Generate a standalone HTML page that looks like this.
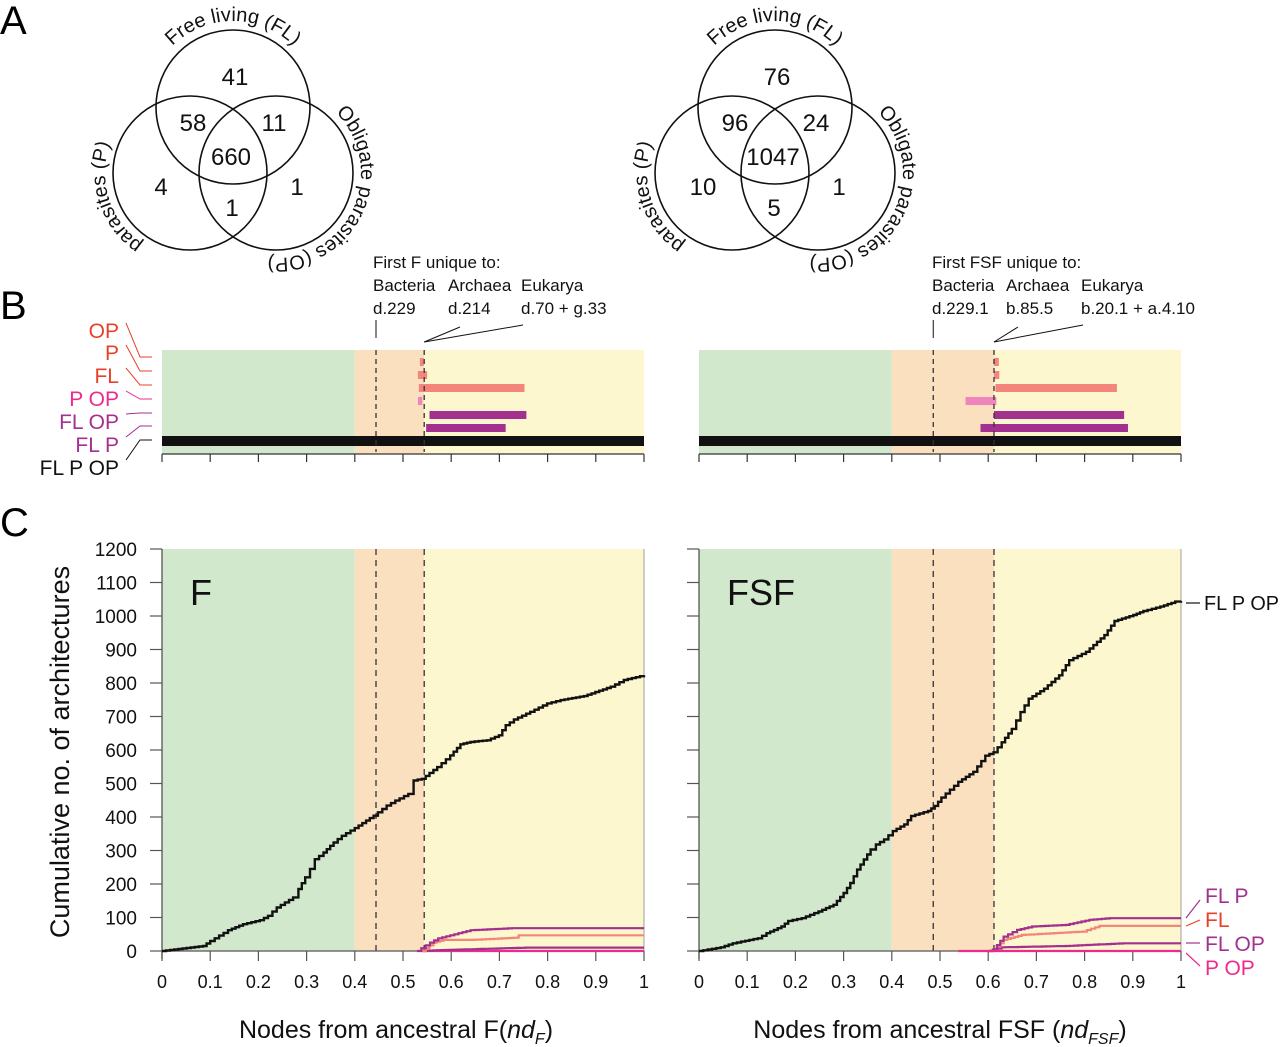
<!DOCTYPE html>
<html><head><meta charset="utf-8"><style>
html,body{margin:0;padding:0;background:#fff;}
svg{display:block;font-family:"Liberation Sans",sans-serif;}
</style></head><body>
<svg id="fig" width="1280" height="1047" viewBox="0 0 1280 1047" xmlns="http://www.w3.org/2000/svg">
<text x="0" y="34" font-size="40">A</text>
<text x="0" y="319" font-size="40">B</text>
<text x="0" y="536" font-size="40">C</text>
<g id="venns"></g>
<g id="panelB"></g>
<g id="panelC"></g>
</svg>
<script>
// ---------- DATA ----------
const vennLeft = ["41","58","11","660","4","1","1"];
const vennRight = ["76","96","24","1047","10","5","1"];
const rowNames = ["OP","P","FL","P OP","FL OP","FL P","FL P OP"];
const barsFStart = [0.535,0.531,0.533,0.531,0.555,0.548,0];
const barsFEnd   = [0.543,0.550,0.752,0.540,0.756,0.713,1];
const barsFSFStart = [0.612,0.612,0.615,0.553,0.612,0.584,0];
const barsFSFEnd   = [0.622,0.623,0.867,0.617,0.882,0.890,1];
const xTicks = [0,0.1,0.2,0.3,0.4,0.5,0.6,0.7,0.8,0.9,1];
const xTickLabels = ["0","0.1","0.2","0.3","0.4","0.5","0.6","0.7","0.8","0.9","1"];
const yTicks = [0,100,200,300,400,500,600,700,800,900,1000,1100,1200];
const fAllX = [0,0.085,0.10,0.137,0.168,0.203,0.22,0.238,0.272,0.283,0.297,0.307,0.317,0.335,0.356,0.373,0.40,0.439,0.466,0.484,0.511,0.522,0.539,0.571,0.598,0.619,0.64,0.674,0.699,0.713,0.73,0.764,0.799,0.827,0.875,0.931,0.958,1];
const fAllY = [0,15,30,62,80,92,105,130,160,185,220,245,274,294,324,344,367,404,434,449,469,509,514,549,584,617,624,629,644,674,691,714,739,749,761,789,809,823];
const fFLPX = [0.529,0.556,0.573,0.64,0.726,1];
const fFLPY = [0,25,38,62,68,68];
const fFLX = [0.539,0.563,0.584,0.64,0.737,0.74,1];
const fFLY = [0,25,33,33,40,47,47];
const fFLOPX = [0.539,0.563,0.754,1];
const fFLOPY = [0,2,10,10];
const fPOPX = [0.54,1];
const fPOPY = [0,0];
const sAllX = [0,0.045,0.07,0.122,0.14,0.171,0.185,0.213,0.248,0.279,0.3,0.314,0.328,0.342,0.356,0.367,0.384,0.402,0.426,0.44,0.475,0.489,0.503,0.538,0.569,0.594,0.611,0.628,0.649,0.667,0.684,0.716,0.747,0.768,0.803,0.841,0.862,0.901,0.922,0.957,0.988,1];
const sAllY = [0,11,23,38,53,73,90,98,118,138,173,203,243,273,303,318,333,358,378,403,418,433,458,505,535,583,593,623,663,713,753,783,823,868,893,943,985,1003,1015,1028,1043,1045];
const sFLPX = [0.6,0.611,0.632,0.66,0.691,0.761,0.81,0.852,1];
const sFLPY = [0,5,43,63,73,78,93,98,98];
const sFLX = [0.611,0.632,0.67,0.796,0.831,1];
const sFLY = [3,33,48,58,75,75];
const sFLOPX = [0.6,0.628,0.761,0.88,1];
const sFLOPY = [0,11,15,23,23];
const sPOPX = [0.538,1];
const sPOPY = [0,0];

const NS="http://www.w3.org/2000/svg";
function mk(tag,attrs,parent,txt){const e=document.createElementNS(NS,tag);for(const k in attrs)e.setAttribute(k,attrs[k]);if(txt!==undefined)e.textContent=txt;parent.appendChild(e);return e;}
const RED="#e8402a",SAL="#f4857a",PUR="#a3308f",PINK="#ec2c8c",PINKB="#ee86bd";
const GREEN="#d2e8cc",ORANGE="#fbe0c0",YELLOW="#fcf7cf";

// ---------- VENNS ----------
const vg=document.getElementById('venns');
function arcPath(cx,cy,r,c){const a0=(c-170)*Math.PI/180,a1=(c+170)*Math.PI/180;
 return `M${cx+r*Math.cos(a0)},${cy+r*Math.sin(a0)} A${r},${r} 0 1 1 ${cx+r*Math.cos(a1)},${cy+r*Math.sin(a1)}`;}
function venn(dx,vals,id){
 const g=mk('g',{},vg);
 
 
 const C=[[233,107],[190,173],[276,173]];
 const cn=['circle-fl','circle-p','circle-op'];
 C.forEach((c,i)=>{const e=mk('circle',{cx:c[0]+dx,cy:c[1],r:77,fill:'none',stroke:'#111','stroke-width':1.6},g);
  
  });
 const pos=[[235,84],[193,130],[274,130],[231,164],[161,194],[232,215],[297,194]];
 vals.forEach((v,i)=>{const t=mk('text',{x:pos[i][0]+dx,y:pos[i][1]+1,'font-size':24,'text-anchor':'middle',fill:'#111'},g,v);
  
  });
 const labs=[["Free living (FL)",233,107,-90,86],["Obligate parasites (OP)",276,173,25,85],["parasites (P)",190,173,162,85]];
 labs.forEach((L,i)=>{const pid=id+'arc'+i;
  mk('path',{id:pid,d:arcPath(L[1]+dx,L[2],L[4],L[3]),fill:'none'},g);
  const t=mk('text',{'font-size':20,fill:'#111'},g);
  
  
  mk('textPath',{href:'#'+pid,startOffset:'50%','text-anchor':'middle'},t,L[0]);});
}
venn(0,vennLeft,'f');venn(542,vennRight,'fsf');

// ---------- PANEL B ----------
const bg=document.getElementById('panelB');
const rowY=[362,375,388,401,415,428,441];
function panelB(x0,orangeEnd,dash1,starts,ends,id,ann){
 const W=482,sx=v=>x0+v*W;
 const g=mk('g',{},bg);
 
 
 mk('rect',{x:sx(0),y:350,width:sx(0.4)-sx(0),height:104,fill:GREEN},g);
 mk('rect',{x:sx(0.4),y:350,width:sx(orangeEnd)-sx(0.4),height:104,fill:ORANGE},g);
 mk('rect',{x:sx(orangeEnd),y:350,width:sx(1)-sx(orangeEnd),height:104,fill:YELLOW},g);
 const cols=[SAL,SAL,SAL,PINKB,PUR,PUR,'#111'];
 starts.forEach((s,i)=>{const h=i==6?10:8;
  const r=mk('rect',{x:sx(s),y:rowY[i]-h/2,width:Math.max(2,sx(ends[i])-sx(s)),height:h,fill:cols[i]},g);
  
  });
 [dash1,orangeEnd].forEach(d=>mk('line',{x1:sx(d),x2:sx(d),y1:350,y2:452,stroke:'#333','stroke-width':1.3,'stroke-dasharray':'5,4'},g));
 mk('line',{x1:sx(0),x2:sx(1),y1:454,y2:454,stroke:'#333','stroke-width':1.2},g);
 xTicks.forEach(v=>mk('line',{x1:sx(v),x2:sx(v),y1:454,y2:462,stroke:'#333','stroke-width':1.2},g));
 const ax=ann.x;
 mk('text',{x:ax[0],y:268,'font-size':17,fill:'#111'},g,ann.title);
 ann.heads.forEach((h,i)=>mk('text',{x:ax[i],y:291,'font-size':17,fill:'#111'},g,h));
 ann.vals.forEach((h,i)=>mk('text',{x:ax[i],y:314,'font-size':17,fill:'#111'},g,h));
 mk('line',{x1:sx(dash1),x2:sx(dash1),y1:320,y2:338,stroke:'#111','stroke-width':1},g);
 mk('line',{x1:ax[1]+12,y1:327,x2:sx(orangeEnd),y2:342,stroke:'#111','stroke-width':1},g);
 mk('line',{x1:ax[2]+2,y1:325,x2:sx(orangeEnd),y2:342,stroke:'#111','stroke-width':1},g);
}
panelB(162,0.544,0.444,barsFStart,barsFEnd,'f',{x:[373,448,521],title:"First F unique to:",heads:["Bacteria","Archaea","Eukarya"],vals:["d.229","d.214","d.70 + g.33"]});
panelB(699,0.612,0.486,barsFSFStart,barsFSFEnd,'fsf',{x:[932,1006,1081],title:"First FSF unique to:",heads:["Bacteria","Archaea","Eukarya"],vals:["d.229.1","b.85.5","b.20.1 + a.4.10"]});
const lblCols=[RED,RED,RED,PINK,PUR,PUR,'#111'];
const lblY=[338,360,383,406,429,452,475];
const lineEndY=[357,371,385,399,413,426,440];
rowNames.forEach((n,i)=>{
 const t=mk('text',{x:119,y:lblY[i],'font-size':21,'text-anchor':'end',fill:lblCols[i]},bg,n);
 
 
 const ly=lblY[i]-7;
 mk('polyline',{points:`${126},${ly-8} ${140},${lineEndY[i]} ${152},${lineEndY[i]}`,fill:'none',stroke:lblCols[i],'stroke-width':1},bg);
});

// ---------- PANEL C ----------
const cg=document.getElementById('panelC');
const Y0=951,Y1=549;
const sy=v=>Y0-(v/1200)*(Y0-Y1);
function stepPath(xs,ys,sx){let d=`M${sx(xs[0])},${sy(ys[0])}`;
 for(let i=1;i<xs.length;i++){const x0=sx(xs[i-1]),x1=sx(xs[i]),y0=sy(ys[i-1]),y1=sy(ys[i]);
  const n=Math.max(1,Math.round((x1-x0)/4));
  for(let k=1;k<=n;k++){const xx=x0+(x1-x0)*k/n,yy=y0+(y1-y0)*k/n;d+=` H${xx.toFixed(1)} V${yy.toFixed(1)}`;}}
 return d;}
function panelC(x0,orangeEnd,dash1,series,id,label,labelAxis){
 const W=482,sx=v=>x0+v*W;
 const g=mk('g',{},cg);
 
 
 mk('rect',{x:sx(0),y:Y1,width:sx(0.4)-sx(0),height:Y0-Y1,fill:GREEN},g);
 mk('rect',{x:sx(0.4),y:Y1,width:sx(orangeEnd)-sx(0.4),height:Y0-Y1,fill:ORANGE},g);
 mk('rect',{x:sx(orangeEnd),y:Y1,width:sx(1)-sx(orangeEnd),height:Y0-Y1,fill:YELLOW},g);
 [dash1,orangeEnd].forEach(d=>mk('line',{x1:sx(d),x2:sx(d),y1:Y1,y2:Y0,stroke:'#333','stroke-width':1.3,'stroke-dasharray':'6,5'},g));
 mk('line',{x1:sx(1),x2:sx(1),y1:Y1,y2:Y0,stroke:'#888','stroke-width':0.8},g);
 mk('line',{x1:sx(0),x2:sx(0),y1:Y1,y2:Y0+8,stroke:'#555','stroke-width':1.3},g);
 mk('line',{x1:sx(0),x2:sx(1),y1:Y0,y2:Y0,stroke:'#555','stroke-width':1.3},g);
 yTicks.forEach(v=>{mk('line',{x1:sx(0)-12,x2:sx(0),y1:sy(v),y2:sy(v),stroke:'#555','stroke-width':1.2},g);
  if(labelAxis){const t=mk('text',{x:137,y:sy(v)+7,'font-size':19,'text-anchor':'end',fill:'#111'},g,String(v));
   
   }});
 xTicks.forEach((v,i)=>{mk('line',{x1:sx(v),x2:sx(v),y1:Y0,y2:Y0+10,stroke:'#555','stroke-width':1.2},g);
  const t=mk('text',{x:sx(v),y:988,'font-size':18,'text-anchor':'middle',fill:'#111'},g,xTickLabels[i]);
  
  });
 series.forEach(s=>{const p=mk('path',{d:stepPath(s.x,s.y,sx),fill:'none',stroke:s.c,'stroke-width':s.w},g);
  
  });
 const t=mk('text',{x:sx(0)+28,y:605,'font-size':36,fill:'#111'},g,label);
 
 
}
panelC(162,0.544,0.444,[
 {x:fPOPX,y:fPOPY,c:PINK,w:2.2,n:'p-op'},
 {x:fFLOPX,y:fFLOPY,c:PUR,w:2.2,n:'fl-op'},
 {x:fFLX,y:fFLY,c:SAL,w:2.2,n:'fl'},
 {x:fFLPX,y:fFLPY,c:PUR,w:2.2,n:'fl-p'},
 {x:fAllX,y:fAllY,c:'#111',w:2.4,n:'fl-p-op'}],'f','F',true);
panelC(699,0.612,0.486,[
 {x:sFLOPX,y:sFLOPY,c:PUR,w:2.2,n:'fl-op'},
 {x:sFLX,y:sFLY,c:SAL,w:2.2,n:'fl'},
 {x:sFLPX,y:sFLPY,c:PUR,w:2.2,n:'fl-p'},
 {x:sPOPX,y:sPOPY,c:PINK,w:2.2,n:'p-op'},
 {x:sAllX,y:sAllY,c:'#111',w:2.4,n:'fl-p-op'}],'fsf','FSF',false);

let t=mk('text',{x:60,y:752,'font-size':27,'text-anchor':'middle',transform:'rotate(-90 60 752) translate(0 9)',fill:'#111'},cg,'Cumulative no. of architectures');


t=mk('text',{x:396,y:1038,'font-size':25,'text-anchor':'middle',fill:'#111'},cg);


t.innerHTML='Nodes from ancestral F(<tspan font-style="italic">nd</tspan><tspan font-size="16" font-style="italic" dy="6">F</tspan><tspan dy="-6">)</tspan>';
t=mk('text',{x:940,y:1038,'font-size':25,'text-anchor':'middle',fill:'#111'},cg);


t.innerHTML='Nodes from ancestral FSF (<tspan font-style="italic">nd</tspan><tspan font-size="16" font-style="italic" dy="6">FSF</tspan><tspan dy="-6">)</tspan>';

const rl=[["FL P OP",1204,610,'#111',[1186,603,1200,603],20],["FL P",1205,903,PUR,[1186,918,1200,900],21],["FL",1205,927,RED,[1186,926,1200,920],21],["FL OP",1205,951,PUR,[1186,943,1200,943],21],["P OP",1205,975,PINK,[1186,953,1200,966],21]];
rl.forEach((r,i)=>{const e=mk('text',{x:r[1],y:r[2],'font-size':r[5],fill:r[3]},cg,r[0]);
 if(i===0){e.setAttribute('textLength','75');e.setAttribute('lengthAdjust','spacingAndGlyphs');}
 
 
 mk('line',{x1:r[4][0],y1:r[4][1],x2:r[4][2],y2:r[4][3],stroke:r[3],'stroke-width':1.2},cg);});
</script>
</body></html>
